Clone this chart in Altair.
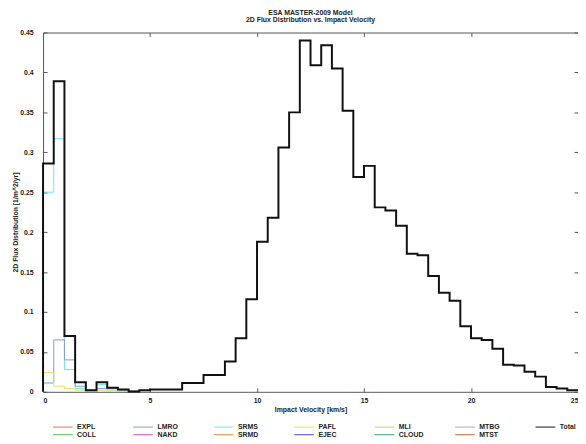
import altair as alt
import pandas as pd

# ---- data ----
bin_edges = [0.0, 0.5, 1.0, 1.5, 2.0, 2.5, 3.0, 3.5, 4.0, 4.5,
             5.0, 5.5, 6.0, 6.5, 7.0, 7.5, 8.0, 8.5, 9.0, 9.5,
             10.0, 10.5, 11.0, 11.5, 12.0, 12.5, 13.0, 13.5, 14.0, 14.5,
             15.0, 15.5, 16.0, 16.5, 17.0, 17.5, 18.0, 18.5, 19.0, 19.5,
             20.0, 20.5, 21.0, 21.5, 22.0, 22.5, 23.0, 23.5, 24.0, 24.5, 25.0]

total_flux = [0.286, 0.389, 0.070, 0.012, 0.002, 0.012, 0.005, 0.003, 0.0005, 0.002,
              0.003, 0.003, 0.003, 0.011, 0.011, 0.021, 0.021, 0.038, 0.067, 0.116,
              0.188, 0.218, 0.306, 0.350, 0.440, 0.409, 0.434, 0.405, 0.352, 0.269,
              0.283, 0.231, 0.227, 0.208, 0.173, 0.171, 0.145, 0.124, 0.114, 0.082,
              0.067, 0.065, 0.054, 0.034, 0.033, 0.025, 0.019, 0.006, 0.004, 0.002]
srms_flux = [0.250, 0.317, 0.028, 0.004, 0.001, 0.009, 0.002, 0.001]
lmro_flux = [0.011, 0.065, 0.040, 0.007, 0.002, 0.004, 0.004, 0.002, 0.001]
pafl_flux = [0.024, 0.007, 0.004, 0.002, 0.001, 0.002, 0.001, 0.001]

legend_order = ["EXPL", "LMRO", "SRMS", "PAFL", "MLI", "MTBG", "Total",
                "COLL", "NAKD", "SRMD", "EJEC", "CLOUD", "MTST"]
legend_colors = ["#f07050", "#7f98e0", "#70e4f0", "#e6e060", "#f2c070", "#a4a4ec", "#111111",
                 "#50c050", "#c050c8", "#e08a30", "#4a4ab0", "#3aa070", "#c86a30"]

y_ticks = [0, 0.05, 0.1, 0.15, 0.2, 0.25, 0.3, 0.35, 0.4, 0.45]
x_ticks = [0, 5, 10, 15, 20, 25]

FONT = "Liberation Sans"


def outline(name, values, drop_end=True):
    pts = [(bin_edges[0], 0.0)]
    for i, v in enumerate(values):
        pts.append((bin_edges[i], v))
    n = len(values)
    pts.append((bin_edges[n], values[-1]))
    if drop_end:
        pts.append((bin_edges[n], 0.0))
    return [dict(series=name, velocity=x, flux=y, k=j) for j, (x, y) in enumerate(pts)]


comp_rows = outline("SRMS", srms_flux) + outline("LMRO", lmro_flux) + outline("PAFL", pafl_flux)
total_rows = outline("Total", total_flux, drop_end=False)
comp_df = pd.DataFrame(comp_rows)
total_df = pd.DataFrame(total_rows)

xscale = alt.Scale(domain=[0, 25], nice=False, zero=False)
yscale = alt.Scale(domain=[0, 0.45], nice=False)

legend = alt.Legend(
    title=None, orient="none", legendX=16.5, legendY=396,
    columns=7, direction="horizontal", gridAlign="all",
    columnPadding=29.5, rowPadding=0, padding=0,
    symbolType="M-5,0H5", symbolSize=16, symbolStrokeWidth=1,
    labelOffset=11, labelFont=FONT, labelFontSize=7, labelFontWeight="bold",
    labelColor="#222222",
)
color = alt.Color("series:N", scale=alt.Scale(domain=legend_order, range=legend_colors), legend=legend)

axis_common = dict(tickSize=4, offset=-4, domain=False, grid=False, tickColor="#555555",
                   labelFont=FONT, labelFontSize=7, labelFontWeight="bold", labelColor="#222222",
                   titleFont=FONT, titleFontSize=7, titleFontWeight="bold", titleColor="#222222")

comp_layer = alt.Chart(comp_df).mark_line(interpolate="step-after", strokeWidth=1).encode(
    x=alt.X("velocity:Q", scale=xscale,
            axis=alt.Axis(orient="bottom", values=x_ticks, format="~g", labelPadding=5,
                          title="Impact Velocity [km/s]", titlePadding=2, **axis_common)),
    y=alt.Y("flux:Q", scale=yscale,
            axis=alt.Axis(orient="left", values=y_ticks, format="~g", labelPadding=10,
                          title="2D Flux Distribution [1/m^2/yr]", titlePadding=1, titleY=192,
                          **axis_common)),
    color=color,
    order=alt.Order("k:Q"),
)

total_layer = alt.Chart(total_df).mark_line(interpolate="step-after", strokeWidth=2).encode(
    x=alt.X("velocity:Q", scale=xscale,
            axis=alt.Axis(orient="top", values=x_ticks, labels=False, title=None, **axis_common)),
    y=alt.Y("flux:Q", scale=yscale,
            axis=alt.Axis(orient="right", values=y_ticks, labels=False, title=None, **axis_common)),
    color=color,
    order=alt.Order("k:Q"),
)

chart = alt.layer(comp_layer, total_layer).resolve_axis(x="independent", y="independent").properties(
    width=542, height=364,
    title=alt.Title(["ESA MASTER-2009 Model", "2D Flux Distribution vs. Impact Velocity"],
                    font=FONT, fontSize=7, fontWeight="bold", lineHeight=7, offset=6,
                    anchor="middle", color="#222222"),
    autosize=alt.AutoSizeParams(type="none"),
    padding={"left": 35.5, "top": 22, "right": 0, "bottom": 48},
).configure_view(stroke="#555555", strokeWidth=1)

chart.save("out.html", embed_options={"renderer": "svg", "actions": False})
